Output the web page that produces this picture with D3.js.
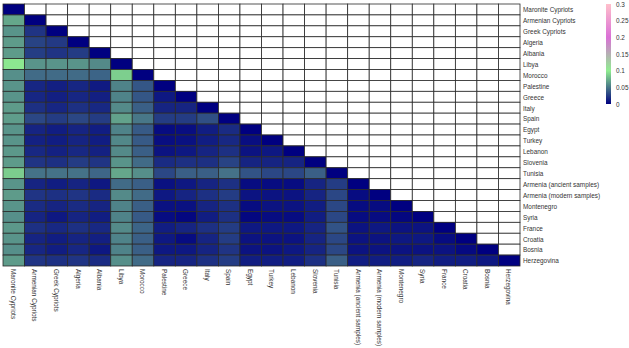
<!DOCTYPE html>
<html>
<head>
<meta charset="utf-8">
<script src="https://cdn.jsdelivr.net/npm/d3@7"></script>
<style>
  body { margin: 0; background: #fff; }
  text { font-family: "Liberation Sans", Arial, sans-serif; }
</style>
</head>
<body>
<svg class="chart"></svg>
<script>
// populations, same order on both axes
const populations = ["Maronite Cypriots", "Armenian Cypriots", "Greek Cypriots", "Algeria", "Albania",
  "Libya", "Morocco", "Palestine", "Greece", "Italy", "Spain", "Egypt", "Turkey", "Lebanon",
  "Slovenia", "Tunisia", "Armenia (ancient samples)", "Armenia (modern samples)", "Montenegro",
  "Syria", "France", "Croatia", "Bosnia", "Herzegovina"];

// lower triangle, row i holds the values against columns 0..i-1 (diagonal is 0)
const lowerTri = [
  [],
  [0.070],
  [0.062, 0.022],
  [0.065, 0.028, 0.024],
  [0.065, 0.026, 0.022, 0.025],
  [0.097, 0.062, 0.062, 0.062, 0.058],
  [0.060, 0.045, 0.045, 0.045, 0.042, 0.087],
  [0.062, 0.016, 0.013, 0.016, 0.011, 0.055, 0.036],
  [0.062, 0.016, 0.013, 0.016, 0.013, 0.055, 0.036, 0.010],
  [0.065, 0.020, 0.016, 0.020, 0.017, 0.058, 0.040, 0.015, 0.015],
  [0.066, 0.030, 0.025, 0.030, 0.025, 0.068, 0.050, 0.025, 0.025, 0.033],
  [0.062, 0.015, 0.012, 0.015, 0.012, 0.055, 0.038, 0.005, 0.006, 0.012, 0.018],
  [0.062, 0.014, 0.012, 0.015, 0.012, 0.057, 0.038, 0.006, 0.007, 0.012, 0.017, 0.006],
  [0.064, 0.017, 0.014, 0.017, 0.014, 0.058, 0.040, 0.008, 0.010, 0.015, 0.020, 0.008, 0.010],
  [0.065, 0.022, 0.020, 0.025, 0.022, 0.062, 0.045, 0.018, 0.020, 0.020, 0.028, 0.015, 0.015, 0.015],
  [0.086, 0.048, 0.048, 0.048, 0.043, 0.070, 0.060, 0.030, 0.040, 0.040, 0.048, 0.035, 0.030, 0.030, 0.040],
  [0.062, 0.015, 0.012, 0.015, 0.010, 0.045, 0.040, 0.007, 0.010, 0.015, 0.020, 0.005, 0.005, 0.005, 0.015, 0.025],
  [0.065, 0.022, 0.020, 0.022, 0.018, 0.058, 0.045, 0.010, 0.015, 0.020, 0.025, 0.008, 0.008, 0.008, 0.015, 0.030, 0.005],
  [0.062, 0.018, 0.015, 0.018, 0.015, 0.055, 0.040, 0.007, 0.007, 0.015, 0.020, 0.005, 0.008, 0.008, 0.012, 0.030, 0.005, 0.005],
  [0.060, 0.015, 0.010, 0.015, 0.012, 0.055, 0.038, 0.005, 0.003, 0.012, 0.020, 0.003, 0.005, 0.005, 0.012, 0.030, 0.005, 0.005, 0.003],
  [0.064, 0.020, 0.017, 0.020, 0.017, 0.058, 0.042, 0.012, 0.015, 0.020, 0.025, 0.010, 0.010, 0.010, 0.015, 0.035, 0.008, 0.010, 0.008, 0.008],
  [0.062, 0.015, 0.012, 0.015, 0.013, 0.055, 0.040, 0.010, 0.005, 0.015, 0.025, 0.008, 0.008, 0.008, 0.015, 0.030, 0.008, 0.008, 0.010, 0.010, 0.005],
  [0.060, 0.016, 0.012, 0.016, 0.010, 0.055, 0.040, 0.010, 0.010, 0.015, 0.022, 0.008, 0.008, 0.010, 0.015, 0.030, 0.008, 0.008, 0.008, 0.008, 0.008, 0.004],
  [0.065, 0.022, 0.020, 0.022, 0.018, 0.060, 0.045, 0.015, 0.015, 0.020, 0.025, 0.012, 0.012, 0.012, 0.020, 0.040, 0.012, 0.012, 0.012, 0.015, 0.012, 0.012, 0.010]
];

const legendTicks = [0, 0.05, 0.1, 0.15, 0.2, 0.25, 0.3];
const colorStops = [0, 0.1, 0.2, 0.3];
const colorList = ["#000080", "#90ee90", "#da70d6", "#ffc0cb"];

const width = 629, height = 348;
const squeeze = 0.8;  // labels in the original are narrow
const svg = d3.select(".chart").attr("width", width).attr("height", height);

const x = d3.scaleBand().domain(populations).range([3, 520]).padding(0);
const y = d3.scaleBand().domain(populations).range([4, 266]).padding(0);
const color = d3.scaleLinear().domain(colorStops).range(colorList).interpolate(d3.interpolateRgb);

// build all cells, upper triangle left white
let cells = [];
populations.forEach(function(rowName, i) {
  populations.forEach(function(colName, j) {
    let v = null;
    if (j < i) v = lowerTri[i][j];
    else if (j === i) v = 0;
    cells.push({row: rowName, col: colName, value: v});
  });
});

svg.append("g").selectAll("rect")
  .data(cells)
  .join("rect")
  .attr("x", d => x(d.col))
  .attr("y", d => y(d.row))
  .attr("width", x.bandwidth())
  .attr("height", y.bandwidth())
  .attr("fill", d => d.value === null ? "#ffffff" : color(d.value))
  .attr("stroke", "#2a2a2a")
  .attr("stroke-width", 0.8);

// row labels on the right
svg.append("g").selectAll("text")
  .data(populations)
  .join("text")
  .attr("transform", d => "translate(523," + (y(d) + y.bandwidth() / 2) + ") scale(" + squeeze + ",1)")
  .attr("dy", "0.35em")
  .attr("font-size", 8)
  .attr("fill", "#333")
  .text(d => d);

// column labels, rotated
svg.append("g").selectAll("text")
  .data(populations)
  .join("text")
  .attr("transform", d => "translate(" + (x(d) + x.bandwidth() / 2) + ",269) rotate(90) scale(" + squeeze + ",1)")
  .attr("dy", "0.35em")
  .attr("font-size", 8)
  .attr("fill", "#333")
  .text(d => d);

// colour bar
const legendY = d3.scaleLinear().domain([0, 0.3]).range([104, 4]);
const defs = svg.append("defs");
const grad = defs.append("linearGradient")
  .attr("id", "bar").attr("x1", 0).attr("y1", 1).attr("x2", 0).attr("y2", 0);
d3.range(0, 31).forEach(function(k) {
  let v = k / 100;
  grad.append("stop").attr("offset", (v / 0.3)).attr("stop-color", color(v));
});
svg.append("rect")
  .attr("x", 606).attr("y", legendY(0.3))
  .attr("width", 5).attr("height", legendY(0) - legendY(0.3))
  .attr("fill", "url(#bar)");

svg.append("g").selectAll("text")
  .data(legendTicks)
  .join("text")
  .attr("transform", d => "translate(616," + legendY(d) + ") scale(" + squeeze + ",1)")
  .attr("dy", "0.35em")
  .attr("font-size", 8)
  .attr("fill", "#333")
  .text(d => d);
</script>
</body>
</html>
